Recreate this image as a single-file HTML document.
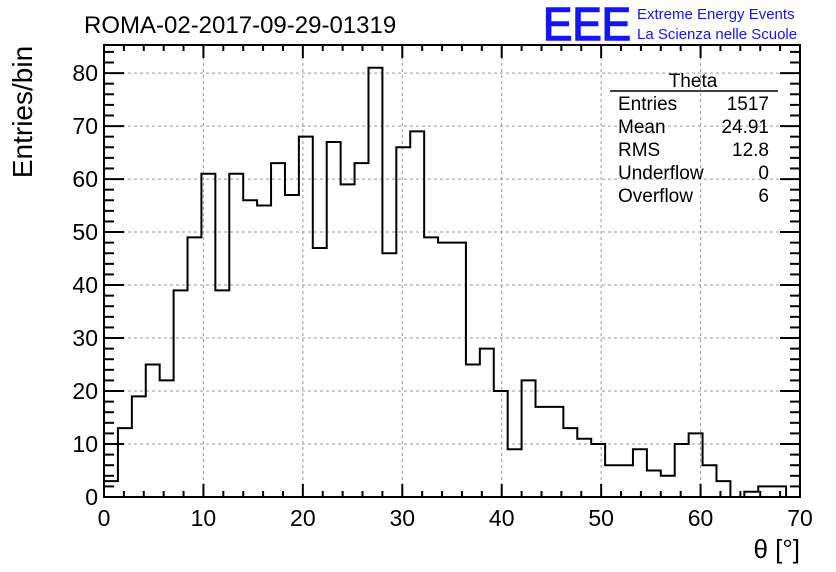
<!DOCTYPE html>
<html><head><meta charset="utf-8"><style>body{margin:0;background:#fff}svg{display:block}text{font-family:"Liberation Sans",sans-serif}</style></head>
<body>
<svg id="c" width="836" height="572" xmlns="http://www.w3.org/2000/svg">
<g id="grid"></g><g id="hist"></g><g id="axes"></g>
<text x="84" y="33" font-size="24">ROMA-02-2017-09-29-01319</text>
<text x="543" y="40" font-size="46" fill="#1414ff" stroke="#1414ff" stroke-width="1.5" textLength="88" lengthAdjust="spacingAndGlyphs">EEE</text>
<text x="637" y="19" font-size="15" fill="#1414ff">Extreme Energy Events</text>
<text x="637" y="39" font-size="15" fill="#1414ff">La Scienza nelle Scuole</text>
<text transform="translate(32,112) rotate(-90)" text-anchor="middle" font-size="28">Entries/bin</text>
<text x="800" y="558" text-anchor="end" font-size="26">θ [°]</text>
<g font-size="19">
<text x="693" y="87" text-anchor="middle">Theta</text>
<line x1="610" y1="91" x2="778" y2="91" stroke="#000" stroke-width="1.5"/>
<text x="618" y="110">Entries</text><text x="769" y="110" text-anchor="end">1517</text>
<text x="618" y="133">Mean</text><text x="769" y="133" text-anchor="end">24.91</text>
<text x="618" y="156">RMS</text><text x="769" y="156" text-anchor="end">12.8</text>
<text x="618" y="179">Underflow</text><text x="769" y="179" text-anchor="end">0</text>
<text x="618" y="202">Overflow</text><text x="769" y="202" text-anchor="end">6</text>
</g>
</svg>
<script>
const binWidth = 1.4;
const counts = [3,13,19,25,22,39,49,61,39,61,56,55,63,57,68,47,67,59,63,81,46,66,69,49,48,48,25,28,20,9,22,17,17,13,11,10,6,6,9,5,4,10,12,6,3,0,1,2,2,0];
const xTicks = [0,10,20,30,40,50,60,70];
const yTicks = [0,10,20,30,40,50,60,70,80];
const L=104,R=800,T=45,B=497,XMAX=70,YMAX=85.3;
const sx=v=>L+(v/XMAX)*(R-L), sy=v=>B-(v/YMAX)*(B-T);
const NS='http://www.w3.org/2000/svg';
function mk(tag,attrs,parent){const e=document.createElementNS(NS,tag);for(const k in attrs)e.setAttribute(k,attrs[k]);document.getElementById(parent).appendChild(e);return e;}
xTicks.forEach(v=>{if(v>0&&v<XMAX){const g=mk('line',{x1:sx(v),x2:sx(v),y1:T,y2:B,stroke:'#999','stroke-dasharray':'3,3'},'grid');

}});
yTicks.forEach(v=>{if(v>0){const g=mk('line',{x1:L,x2:R,y1:sy(v),y2:sy(v),stroke:'#999','stroke-dasharray':'3,3'},'grid');

}});
let d='M'+sx(0)+','+sy(0);
counts.forEach((c,i)=>{d+=' L'+sx(i*binWidth)+','+sy(c)+' L'+sx((i+1)*binWidth)+','+sy(c);});
d+=' L'+sx(counts.length*binWidth)+','+sy(0);
const h=mk('path',{d:d,fill:'none',stroke:'#000','stroke-width':2},'hist');


const f=mk('rect',{x:L,y:T,width:R-L,height:B-T,fill:'none',stroke:'#000','stroke-width':2},'axes');


for(let v=0;v<=XMAX;v+=2){const len=v%10===0?13:6;
mk('line',{x1:sx(v),x2:sx(v),y1:B,y2:B-len,stroke:'#000','stroke-width':2},'axes');
mk('line',{x1:sx(v),x2:sx(v),y1:T,y2:T+len,stroke:'#000','stroke-width':2},'axes');}
xTicks.forEach(v=>{const t=mk('text',{x:sx(v),y:526,'text-anchor':'middle','font-size':23},'axes');t.textContent=v;

});
for(let v=0;v<=84;v+=2){const len=v%10===0?20:10;
mk('line',{x1:L,x2:L+len,y1:sy(v),y2:sy(v),stroke:'#000','stroke-width':2},'axes');
mk('line',{x1:R,x2:R-len,y1:sy(v),y2:sy(v),stroke:'#000','stroke-width':2},'axes');}
yTicks.forEach(v=>{const t=mk('text',{x:98,y:sy(v)+8,'text-anchor':'end','font-size':23},'axes');t.textContent=v;

});
</script>
</body></html>
